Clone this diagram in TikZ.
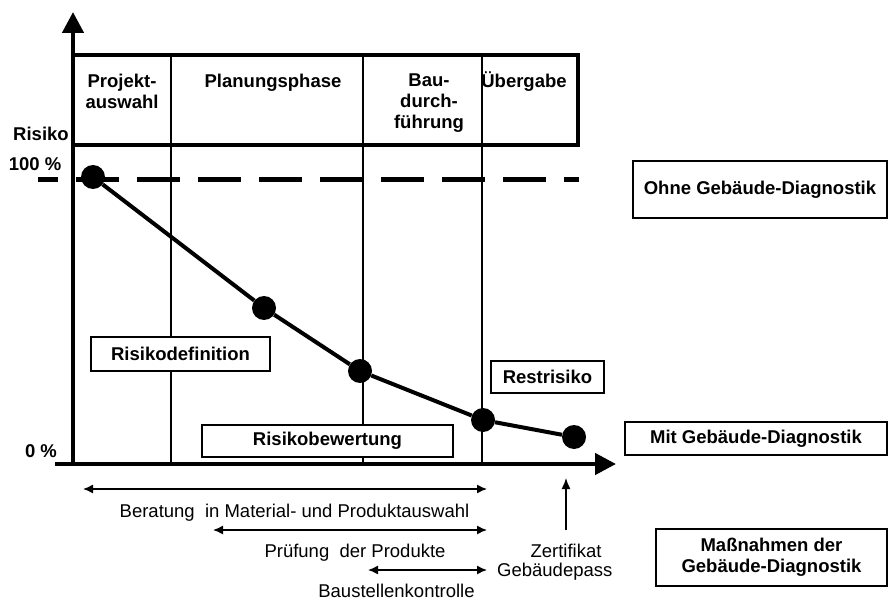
\documentclass[tikz,border=0pt]{standalone}
\usepackage{fontspec}
\setmainfont{Liberation Sans}
\usetikzlibrary{arrows.meta,positioning}
\tikzset{
    lbl/.style = {font=\fontsize{18.5}{21}\selectfont\bfseries, align=center, inner sep=0pt},
    txt/.style = {font=\fontsize{18.5}{21}\selectfont, inner sep=0pt},
    phase/.style = {lbl, anchor=north},
    infobox/.style = {lbl, draw, fill=white, line width=1.2pt},
    dot/.style = {circle, fill, inner sep=0pt, minimum size=24pt},
    axis/.style = {line width=4.5pt, -{Triangle[length=21pt,width=21pt]}},
    span/.style = {line width=1.4pt, {Latex[length=10pt,width=9pt]}-{Latex[length=10pt,width=9pt]}},
    uparrow/.style = {line width=1.4pt, -{Latex[length=11pt,width=9pt]}}
}

\begin{document}
\begin{tikzpicture}[x=1pt,y=-1pt]
    \useasboundingbox (0,0) rectangle (888,601);

    % phases
    \foreach \x in {171,363,482}
        \draw[line width=1.1pt] (\x,55) -- (\x,464);
    \draw[line width=4pt] (73,55) rectangle (578,145);
    \node[phase] (projekt) at (122,73.5) {Projekt-\\auswahl};
    \node[phase] (planung) at (273,73.5) {Planungsphase};
    \node[phase] (bau) at (429,73.5) {Bau-\\durch-\\führung};
    \node[phase, text height=13.5pt] (uebergabe) at (524,73.5) {Übergabe};

    % axes
    \draw[axis] (73,466) -- (73,12);
    \draw[axis] (55,464) -- (616,464);
    \node[lbl] (risiko) at (41,134) {Risiko};
    \node[lbl] (hundert) at (35,164) {100 \%};
    \node[lbl] (null) at (41,451) {0 \%};

    % ohne
    \draw[line width=5pt, dash pattern=on 43pt off 18pt, dash phase=23pt] (38,180) -- (579,180);

    % mit
    \node[dot] (p1) at (93,177) {};
    \node[dot] (p2) at (264,308) {};
    \node[dot] (p3) at (360,371) {};
    \node[dot] (p4) at (483,420) {};
    \node[dot] (p5) at (574,437) {};
    \draw[line width=4pt] (p1) -- (p2) -- (p3) -- (p4) -- (p5);

    \node[infobox, minimum width=179pt, minimum height=34pt] (definition) at (180.5,354) {Risikodefinition};
    \node[infobox, minimum width=251pt, minimum height=32pt] (bewertung) at (327.5,441) {Risikobewertung};
    \node[infobox, minimum width=113pt, minimum height=32pt] (rest) at (547.5,377) {Restrisiko};
    \node[infobox, minimum width=254pt, minimum height=57pt] (ohne) at (760,189.5) {Ohne Gebäude-Diagnostik};
    \node[infobox, minimum width=262pt, minimum height=33pt] (mit) at (756,438.5) {Mit Gebäude-Diagnostik};
    \node[infobox, minimum width=231pt, minimum height=57pt] (massnahmen) at (771.5,557.5) {Maßnahmen der\\Gebäude-Diagnostik};

    % measures
    \coordinate (ber-l) at (83,489);
    \coordinate (ber-r) at (487,489);
    \coordinate (pruef-l) at (213,530);
    \coordinate (pruef-r) at (487,530);
    \coordinate (bst-l) at (368,570);
    \coordinate (bst-r) at (487,570);
    \coordinate (zert-b) at (566,530);
    \coordinate (zert-t) at (566,478);
    \draw[span] (ber-l) -- (ber-r);
    \draw[span] (pruef-l) -- (pruef-r);
    \draw[span] (bst-l) -- (bst-r);
    \draw[uparrow] (zert-b) -- (zert-t);

    \node[txt, anchor=base] (beratung) at (294.5,517) {Beratung\ \ in Material- und Produktauswahl};
    \node[txt, anchor=base] (pruefung) at (355,557.5) {Prüfung\ \ der Produkte};
    \node[txt, anchor=base] (baustelle) at (396.5,597) {Baustellenkontrolle};
    \node[txt, anchor=base] (zertifikat) at (566,557.5) {Zertifikat};
    \node[txt, anchor=base west] (pass) at (497,576) {Gebäudepass};
\end{tikzpicture}
\end{document}
